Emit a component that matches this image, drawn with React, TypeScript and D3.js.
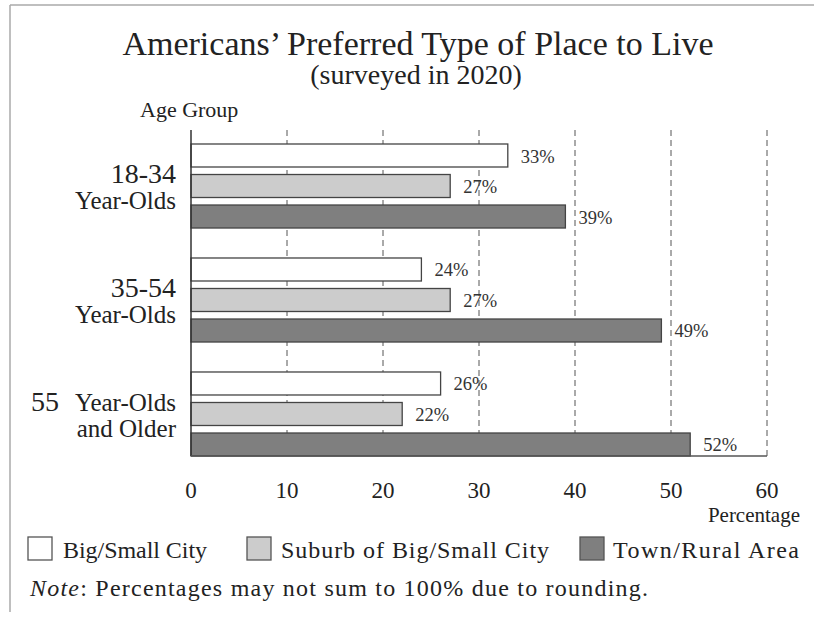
import React from 'react';
import * as d3 from 'd3';

const groups = ['18-34', '35-54', '55+'];
const seriesNames = ['Big/Small City', 'Suburb of Big/Small City', 'Town/Rural Area'];
const cityValues = [33, 24, 26];
const suburbValues = [27, 27, 22];
const ruralValues = [39, 49, 52];
const xTicks = [0, 10, 20, 30, 40, 50, 60];

const fills = ['#ffffff', '#cccccc', '#7f7f7f'];
const font = '"Liberation Serif", "Times New Roman", serif';
const ink = '#222';

const App: React.FC = () => {
  const width = 814;
  const height = 619;

  const x = d3.scaleLinear().domain([0, 60]).range([191, 767]);
  const yGroup = d3.scaleBand<string>().domain(groups).range([144, 456]).paddingInner(0.263).paddingOuter(0);
  const yBar = d3.scaleBand<string>().domain(seriesNames).range([0, yGroup.bandwidth()]).paddingInner(0.246);

  const series = [cityValues, suburbValues, ruralValues];
  const plotTop = 130;
  const plotBottom = 456;

  const groupLabel = (g: string, i: number) => {
    const top = yGroup(g)!;
    if (i < 2) {
      return (
        <g key={g}>
          <text x={176} y={top + 39} textAnchor="end" fontSize={28}>{g}</text>
          <text x={176} y={top + 65} textAnchor="end" fontSize={25}>Year-Olds</text>
        </g>
      );
    }
    return (
      <g key={g}>
        <text x={31} y={top + 39} fontSize={28}>55</text>
        <text x={176} y={top + 39} textAnchor="end" fontSize={25}>Year-Olds</text>
        <text x={176} y={top + 65} textAnchor="end" fontSize={25}>and Older</text>
      </g>
    );
  };

  // legend layout: box x, text x, text width
  const legendItems = [
    { box: 28, text: 63, len: 144 },
    { box: 247, text: 281, len: 268 },
    { box: 580, text: 613, len: 186 },
  ];

  return (
    <svg width={width} height={height} style={{ position: 'absolute', left: 0, top: 0, background: '#fff' }}
      fontFamily={font} fill={ink}>
      {/* frame */}
      <line x1={10} x2={814} y1={5} y2={5} stroke="#aaa" strokeWidth={1.5} />
      <line x1={10} x2={10} y1={5} y2={612} stroke="#aaa" strokeWidth={1.5} />

      <text x={418} y={55} textAnchor="middle" fontSize={34}>Americans’ Preferred Type of Place to Live</text>
      <text x={416} y={84} textAnchor="middle" fontSize={28}>(surveyed in 2020)</text>
      <text x={140} y={117} fontSize={22}>Age Group</text>

      {/* grid */}
      {xTicks.slice(1).map(t => (
        <line key={t} x1={x(t)} x2={x(t)} y1={plotTop} y2={plotBottom} stroke="#555" strokeWidth={1} strokeDasharray="6,4" />
      ))}

      {/* bars */}
      {groups.map((g, gi) => (
        <g key={g} transform={`translate(0,${yGroup(g)})`}>
          {seriesNames.map((s, si) => {
            const v = series[si][gi];
            const y0 = yBar(s)!;
            return (
              <g key={s}>
                <rect x={x(0)} y={y0} width={x(v) - x(0)} height={yBar.bandwidth()}
                  fill={fills[si]} stroke="#444" strokeWidth={1.3} />
                <text x={x(v) + 13} y={y0 + yBar.bandwidth() / 2 + 7} fontSize={18.5} fill="#333">{v}%</text>
              </g>
            );
          })}
        </g>
      ))}

      {/* axes */}
      <line x1={x(0)} x2={x(0)} y1={plotTop} y2={plotBottom} stroke="#333" strokeWidth={1.5} />
      <line x1={x(0)} x2={x(60)} y1={plotBottom} y2={plotBottom} stroke="#555" strokeWidth={1.5} />
      {xTicks.map(t => (
        <text key={t} x={x(t)} y={498} textAnchor="middle" fontSize={23}>{t}</text>
      ))}
      <text x={800} y={522} textAnchor="end" fontSize={21}>Percentage</text>

      {groups.map(groupLabel)}

      {/* legend */}
      {seriesNames.map((s, i) => (
        <g key={s}>
          <rect x={legendItems[i].box} y={537} width={24} height={23} fill={fills[i]} stroke="#555" strokeWidth={1.3} />
          <text x={legendItems[i].text} y={558} fontSize={24} textLength={legendItems[i].len} lengthAdjust="spacing">{s}</text>
        </g>
      ))}

      <text x={30} y={596} fontSize={24} textLength={618} lengthAdjust="spacing">
        <tspan fontStyle="italic">Note</tspan>: Percentages may not sum to 100% due to rounding.
      </text>
    </svg>
  );
};

export default App;
